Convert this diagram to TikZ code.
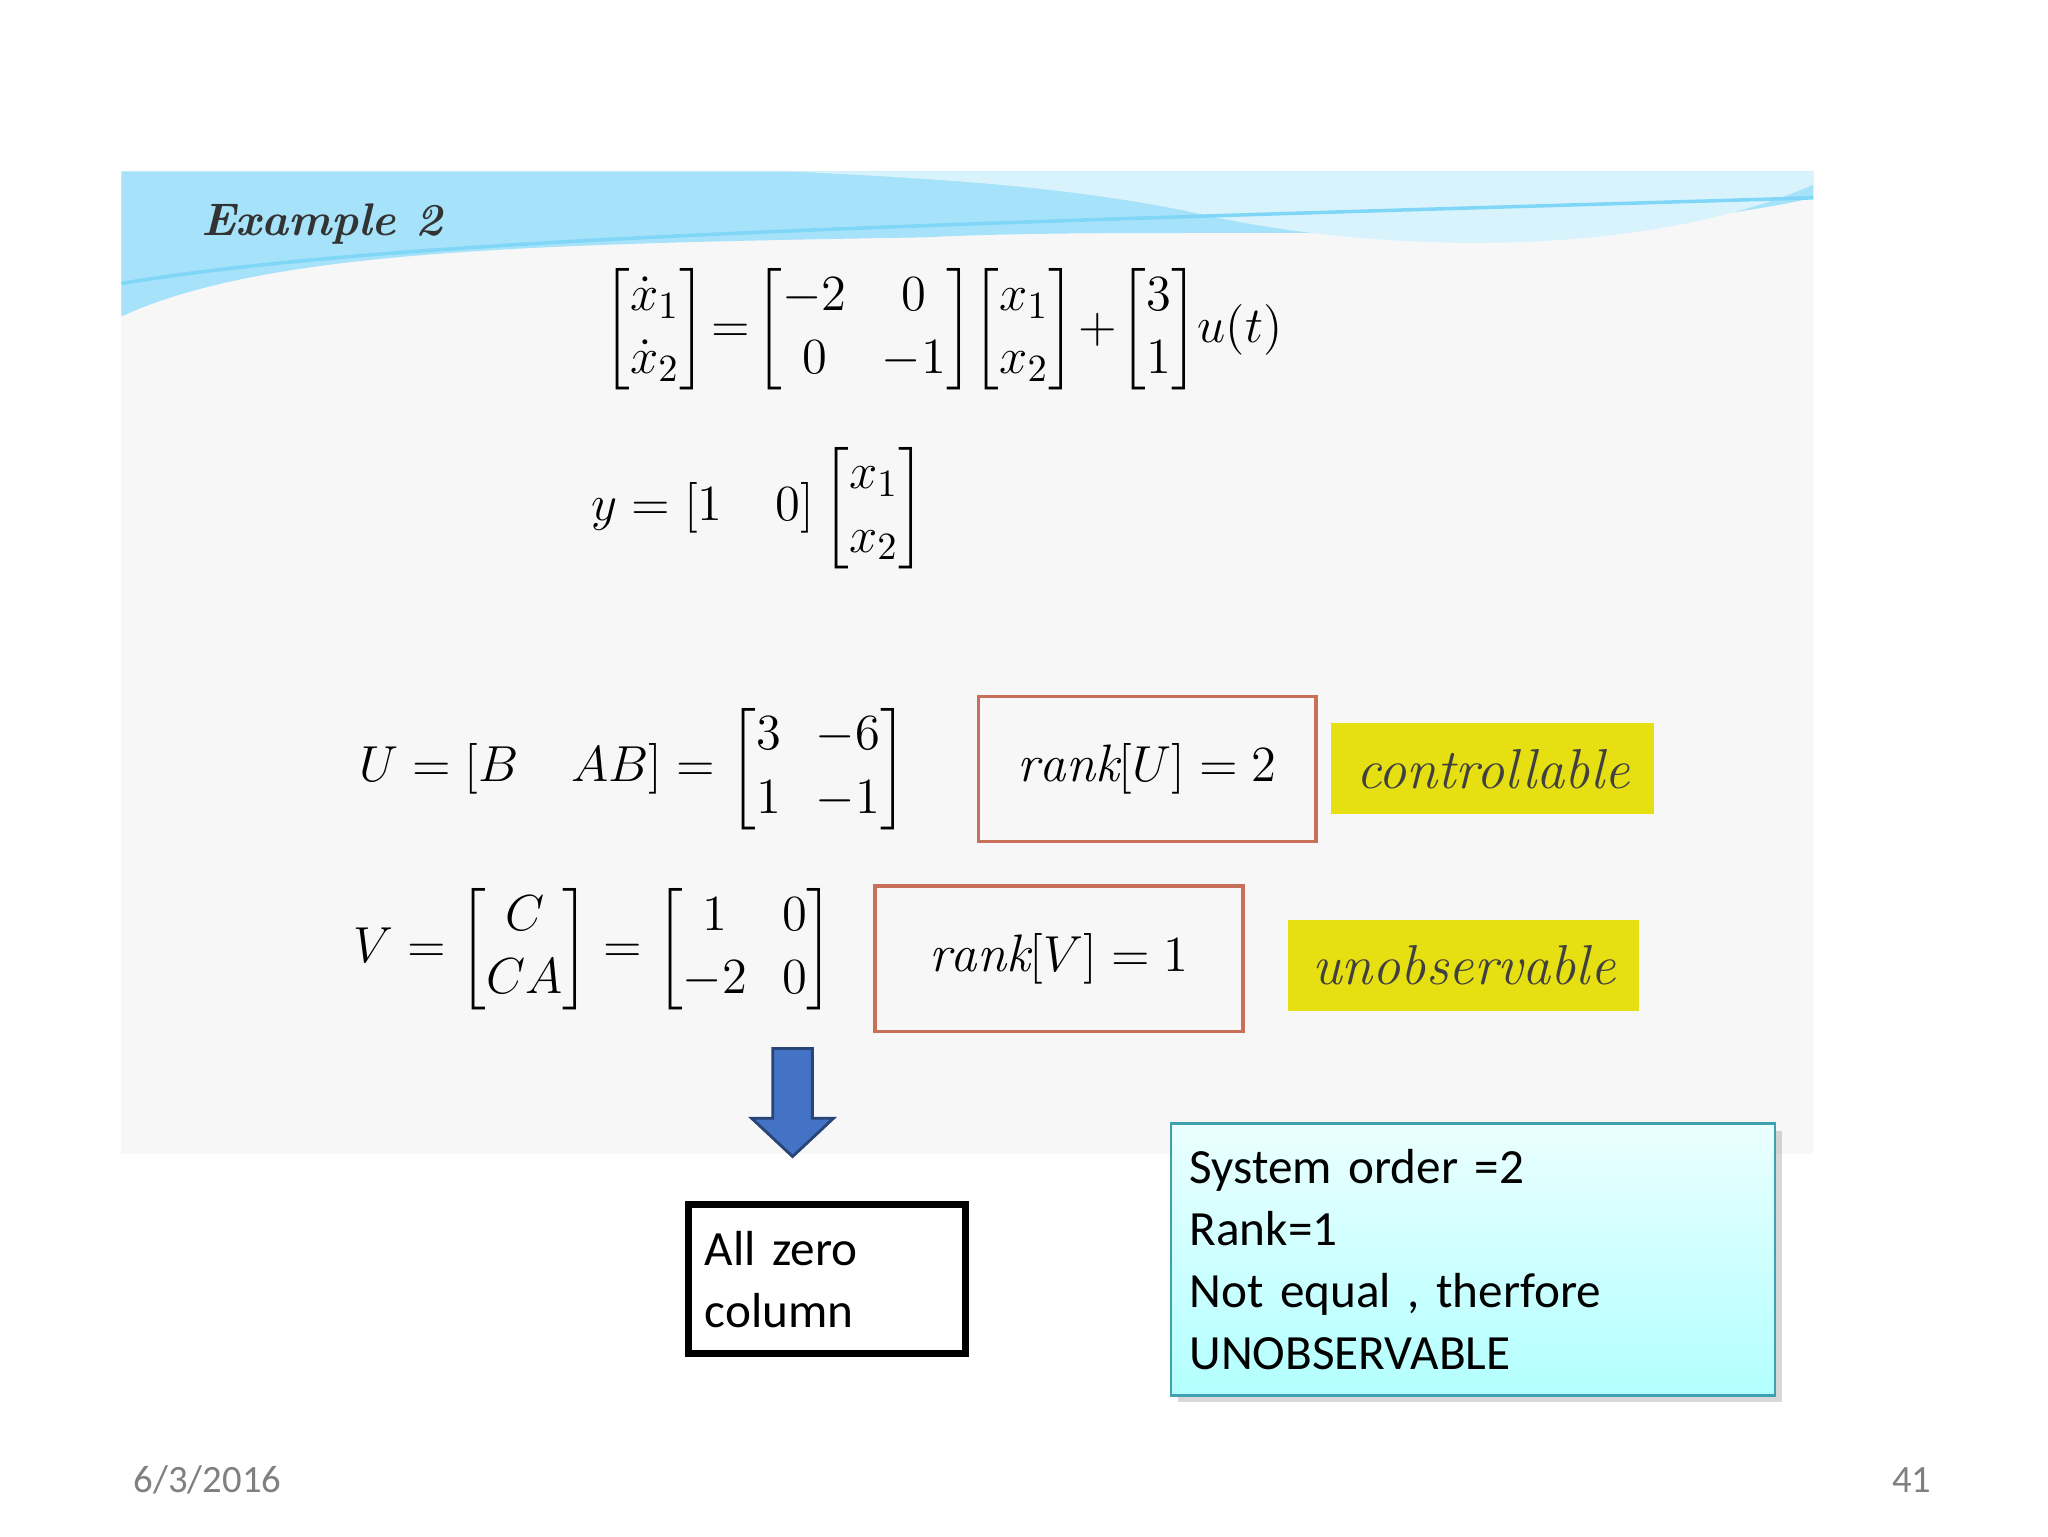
\documentclass[tikz,border=0pt]{standalone}
\usepackage{amsmath}
\usepackage{fontspec}
\newfontfamily\carlitofont{Carlito}
\usetikzlibrary{shadows,arrows.meta}
\definecolor{rbox}{HTML}{C8705A}
\definecolor{ylw}{HTML}{E6DF12}
\definecolor{tealb}{HTML}{3FA0B0}
\definecolor{arrowblue}{HTML}{4472C4}
\begin{document}
\begin{tikzpicture}[x=0.01319cm,y=-0.01319cm,
  eq/.style={inner sep=0pt,font=\fontsize{15}{18}\selectfont},
  rankbox/.style={draw=rbox,line width=1pt,minimum width=#1,minimum height=110*0.01319cm,font=\fontsize{15}{18}\selectfont},
  ybox/.style={fill=ylw,inner sep=0pt,minimum height=69*0.01319cm,minimum width=#1,font=\fontsize{16}{18}\selectfont\itshape\color{black!75}},
  txt/.style={font=\carlitofont\fontsize{14}{17.6}\selectfont,align=left}]
\useasboundingbox (0,0) rectangle (1553,1165);
\fill[white] (0,0) rectangle (1553,1165);
\fill[black!3] (92,130) rectangle (1375,875);
% header waves
\fill[cyan!35] (92,130) -- (1375,130) -- (1375,150) .. controls (1200,190) and (900,170) .. (700,180) .. controls (400,185) and (200,190) .. (92,240) -- cycle;
\fill[cyan!15] (600,130) -- (1375,130) -- (1375,140) .. controls (1250,195) and (1050,195) .. (900,160) .. controls (800,140) and (700,135) .. (600,130) -- cycle;
\draw[cyan!50,line width=1pt] (92,215) .. controls (300,180) and (700,170) .. (1375,150);
\node[anchor=west,font=\fontsize{13}{16}\selectfont\bfseries\itshape,text=black!80] (ex) at (143,170) {Example 2};
\node[eq] (e1) at (715,250) {$\begin{bmatrix}\dot x_1\\ \dot x_2\end{bmatrix}\!=\!\begin{bmatrix}-2 & 0\\ 0 & -1\end{bmatrix}\!\begin{bmatrix}x_1\\ x_2\end{bmatrix}\!+\!\begin{bmatrix}3\\ 1\end{bmatrix}\!u(t)$};
\node[eq] (e2) at (575,385) {$y=[1\quad 0]\begin{bmatrix}x_1\\ x_2\end{bmatrix}$};
\node[eq] (e3) at (480,583) {$U=[B\quad AB]=\begin{bmatrix}3 & -6\\ 1 & -1\end{bmatrix}$};
\node[eq] (e4) at (450,720) {$V=\begin{bmatrix}C\\ CA\end{bmatrix}=\begin{bmatrix}1 & 0\\ -2 & 0\end{bmatrix}$};
\node[rankbox=256*0.01319cm] (ru) at (870,583) {$\mathit{rank}[U]=2$};
\node[ybox=245*0.01319cm] (c) at (1132,583) {controllable};
\node[rankbox=279*0.01319cm] (rv) at (803,727) {$\mathit{rank}[V]=1$};
\node[ybox=266*0.01319cm] (uo) at (1110,732) {unobservable};
% blue arrow
\draw[fill=arrowblue,draw=arrowblue!60!black,line width=0.8pt] (586,795) -- (616,795) -- (616,848) -- (632,848) -- (601,877) -- (570,848) -- (586,848) -- cycle;
\node[draw,line width=2pt,minimum width=210*0.01319cm,minimum height=113*0.01319cm,txt,text width=185*0.01319cm,inner sep=0pt] (az) at (627,970) {All zero\\column};
\node[draw=tealb,line width=0.8pt,top color=cyan!8,bottom color=cyan!30,drop shadow={shadow xshift=2pt,shadow yshift=-2pt,opacity=0.3},minimum width=458*0.01319cm,minimum height=206*0.01319cm,txt,text width=430*0.01319cm,inner sep=0pt] (sys) at (1117,955) {System order =2\\Rank=1\\Not equal , therfore\\UNOBSERVABLE};
\node[anchor=west,font=\carlitofont\fontsize{11}{13}\selectfont,text=black!50] (d) at (92,1122) {6/3/2016};
\node[anchor=east,font=\carlitofont\fontsize{11}{13}\selectfont,text=black!50] (p) at (1474,1122) {41};
\end{tikzpicture}
\end{document}
